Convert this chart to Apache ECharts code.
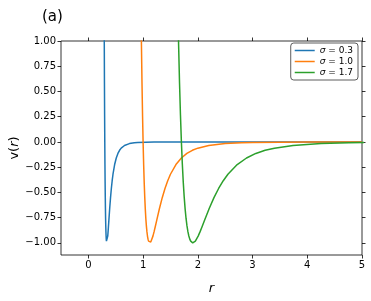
<!DOCTYPE html>
<html><head><meta charset="utf-8">
<script src="https://cdn.jsdelivr.net/npm/echarts@6/dist/echarts.min.js"></script>
<style>html,body{margin:0;padding:0;background:#fff}#c{width:371px;height:301px}</style>
</head><body><div id="c"></div>
<script>
// Data (r, v(r)) for each curve
const r03 = [0.279,0.285,0.288,0.291,0.294,0.297,0.300,0.303,0.306,0.309,0.312,0.315,0.318,0.321,0.324,0.327,0.330,0.3366,0.342,0.345,0.354,0.360,0.366,0.375,0.390,0.405,0.420,0.435,0.450,0.480,0.510,0.540,0.570,0.600,0.660,0.750,0.840,0.900,1.050,1.200,1.500,2.000,3.000,5.000];
const v03 = [3.37,1.961,1.418,0.963,0.582,0.264,0,-0.218,-0.398,-0.544,-0.663,-0.758,-0.832,-0.889,-0.932,-0.963,-0.983,-1.0,-0.992,-0.982,-0.933,-0.891,-0.845,-0.774,-0.657,-0.552,-0.461,-0.384,-0.320,-0.224,-0.159,-0.114,-0.083,-0.0615,-0.035,-0.0163,-0.0083,-0.0055,-0.0022,-0.001,-0.0003,-0.00005,0,0];
const r10 = [0.93,0.95,0.96,0.97,0.98,0.99,1.00,1.01,1.02,1.03,1.04,1.05,1.06,1.07,1.08,1.09,1.10,1.122,1.14,1.15,1.18,1.20,1.22,1.25,1.30,1.35,1.40,1.45,1.50,1.60,1.70,1.80,1.90,2.00,2.20,2.50,2.80,3.00,3.50,4.00,5.00];
const v10 = [3.37,1.961,1.418,0.963,0.582,0.264,0,-0.218,-0.398,-0.544,-0.663,-0.758,-0.832,-0.889,-0.932,-0.963,-0.983,-1.0,-0.992,-0.982,-0.933,-0.891,-0.845,-0.774,-0.657,-0.552,-0.461,-0.384,-0.320,-0.224,-0.159,-0.114,-0.083,-0.0615,-0.035,-0.0163,-0.0083,-0.0055,-0.0022,-0.001,-0.0003];
const r17 = [1.581,1.615,1.632,1.649,1.666,1.683,1.700,1.717,1.734,1.751,1.768,1.785,1.802,1.819,1.836,1.853,1.870,1.907,1.938,1.955,2.006,2.040,2.074,2.125,2.210,2.295,2.380,2.465,2.550,2.720,2.890,3.060,3.230,3.400,3.740,4.250,4.760,5.100];
const v17 = [3.37,1.961,1.418,0.963,0.582,0.264,0,-0.218,-0.398,-0.544,-0.663,-0.758,-0.832,-0.889,-0.932,-0.963,-0.983,-1.0,-0.992,-0.982,-0.933,-0.891,-0.845,-0.774,-0.657,-0.552,-0.461,-0.384,-0.320,-0.224,-0.159,-0.114,-0.083,-0.0615,-0.035,-0.0163,-0.0083,-0.0055];
const seriesNames = ['σ = 0.3','σ = 1.0','σ = 1.7'];
const colors = ['#1f77b4','#ff7f0e','#2ca02c'];
const xTicks = [0,1,2,3,4,5];
const yTicks = [-1.00,-0.75,-0.50,-0.25,0.00,0.25,0.50,0.75,1.00];

const F = 'DejaVu Sans';
const zip = (a,b)=>a.map((x,i)=>[x,b[i]]);
const fmtY = v => (v<0?'\u2212':'') + Math.abs(v).toFixed(2);
const tickStyle = {show:true, length:3.5, inside:false, lineStyle:{color:'#000', width:0.8}};
const lineOff = {show:false, onZero:false};
const chart = echarts.init(document.getElementById('c'), null, {renderer:'canvas'});
chart.setOption({
  animation:false,
  backgroundColor:'#fff',
  title:{text:'(a)', left:37, top:5, textStyle:{fontFamily:F, fontSize:15, fontWeight:'normal', color:'#000'}},
  grid:{left:61, top:41, right:9, bottom:46, outerBoundsMode:'none', containLabel:false, show:true, borderColor:'#000', borderWidth:0.8, backgroundColor:'#fff'},
  legend:{
    orient:'vertical', right:13, top:43, padding:[3,5,3,4], itemGap:2,
    borderColor:'#333', borderWidth:0.8, borderRadius:3, backgroundColor:'#fff',
    icon:'rect', itemWidth:20, itemHeight:1.5,
    data:seriesNames,
    formatter: n => '{i|σ}' + n.slice(1),
    textStyle:{fontFamily:F, fontSize:9, color:'#000', rich:{i:{fontFamily:F, fontStyle:'italic', fontSize:9}}}
  },
  xAxis:[
    {type:'value', min:-0.5, max:5, position:'bottom',
     axisLine:lineOff, splitLine:{show:false},
     axisTick:Object.assign({customValues:xTicks}, tickStyle),
     axisLabel:{customValues:xTicks, fontFamily:F, fontSize:10, color:'#000', margin:5, formatter:v=>String(v)},
     name:'r', nameLocation:'middle', nameGap:27, nameMoveOverlap:false,
     nameTextStyle:{fontFamily:F, fontSize:13, fontStyle:'italic', color:'#000'}},
    {type:'value', min:-0.5, max:5, position:'top',
     axisLine:lineOff, splitLine:{show:false},
     axisTick:Object.assign({customValues:xTicks}, tickStyle),
     axisLabel:{show:false}}
  ],
  yAxis:[
    {type:'value', min:-1.12, max:1, position:'left',
     axisLine:lineOff, splitLine:{show:false},
     axisTick:Object.assign({customValues:yTicks}, tickStyle),
     axisLabel:{customValues:yTicks, fontFamily:F, fontSize:10, color:'#000', margin:5, formatter:fmtY},
     name:'v({i|r})', nameLocation:'middle', nameGap:40, nameRotate:90, nameMoveOverlap:false,
     nameTextStyle:{fontFamily:F, fontSize:13, color:'#000', rich:{i:{fontFamily:F, fontSize:13, fontStyle:'italic'}}}},
    {type:'value', min:-1.12, max:1, position:'right',
     axisLine:lineOff, splitLine:{show:false},
     axisTick:Object.assign({customValues:yTicks}, tickStyle),
     axisLabel:{show:false}}
  ],
  series:[
    {name:seriesNames[0], type:'line', data:zip(r03,v03), xAxisIndex:0, yAxisIndex:0, showSymbol:false, clip:true, color:colors[0], lineStyle:{width:1.5, color:colors[0]}},
    {name:seriesNames[1], type:'line', data:zip(r10,v10), xAxisIndex:0, yAxisIndex:0, showSymbol:false, clip:true, color:colors[1], lineStyle:{width:1.5, color:colors[1]}},
    {name:seriesNames[2], type:'line', data:zip(r17,v17), xAxisIndex:0, yAxisIndex:0, showSymbol:false, clip:true, color:colors[2], lineStyle:{width:1.5, color:colors[2]}}
  ]
});
</script></body></html>
